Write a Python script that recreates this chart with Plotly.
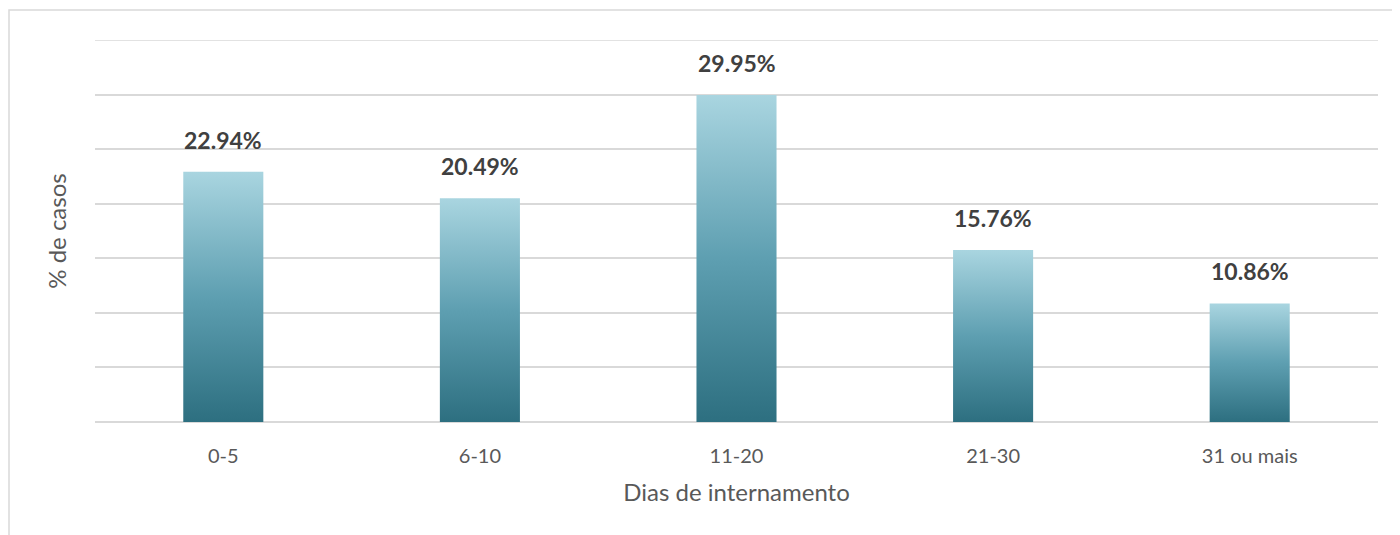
import plotly.graph_objects as go

categories = ["0-5", "6-10", "11-20", "21-30", "31 ou mais"]
values = [22.94, 20.49, 29.95, 15.76, 10.86]
value_labels = ["22.94%", "20.49%", "29.95%", "15.76%", "10.86%"]
grid_values = [0, 5, 10, 15, 20, 25, 30, 35]

BAR_HALF = 0.156
FONT = "Lato"

W, H = 1392, 527
L, R, T, B = 87, 22, 32, 113
PW, PH = W - L - R, H - T - B

fig = go.Figure()

for i, v in enumerate(values):
    xs = [i - BAR_HALF, i + BAR_HALF, i + BAR_HALF, i - BAR_HALF, i - BAR_HALF]
    ys = [0, 0, v, v, 0]
    fig.add_trace(go.Scatter(
        x=xs, y=ys, mode="lines", fill="toself",
        line=dict(width=0, color="rgba(0,0,0,0)"),
        fillgradient=dict(
            type="vertical",
            colorscale=[[0, "#2d6f80"], [0.5, "#5e9fb1"], [1, "#a9d5e0"]],
        ),
        hoverinfo="skip", showlegend=False,
    ))
    fig.add_annotation(
        x=i, y=v, text="<b>%s</b>" % value_labels[i], showarrow=False,
        yshift=32, font=dict(family=FONT, size=23, color="#404040"),
    )

# top gridline at the range edge
fig.add_shape(type="line", xref="paper", yref="y", x0=0, x1=1,
              y0=grid_values[-1], y1=grid_values[-1],
              line=dict(color="#d9d9d9", width=1.5), layer="below")

# outer chart frame
fig.add_shape(type="rect", xref="paper", yref="paper",
              x0=(1 - L) / PW, x1=(W + 20 - L) / PW,
              y0=(H - B - (H + 20)) / PH, y1=(H - B - 2) / PH,
              line=dict(color="#d9d9d9", width=1.5), layer="below")

fig.update_layout(
    width=W, height=H,
    margin=dict(l=L, r=R, t=T, b=B),
    paper_bgcolor="white", plot_bgcolor="white",
    showlegend=False,
    xaxis=dict(
        range=[-0.5, 4.5], tickmode="array", tickvals=list(range(5)), ticktext=categories,
        showgrid=False, zeroline=False, showline=False, ticks="",
        ticklabelstandoff=20,
        tickfont=dict(family=FONT, size=20, color="#595959"),
        title=dict(text="Dias de internamento", standoff=18,
                   font=dict(family=FONT, size=24, color="#595959")),
    ),
    yaxis=dict(
        range=[0, 35], tickmode="array", tickvals=grid_values,
        showticklabels=False,
        showgrid=True, gridcolor="#d9d9d9", gridwidth=1.5,
        zeroline=True, zerolinecolor="#d9d9d9", zerolinewidth=1.5,
        title=dict(text="% de casos", standoff=20,
                   font=dict(family=FONT, size=24, color="#595959")),
    ),
)

fig.write_html("out.html")
